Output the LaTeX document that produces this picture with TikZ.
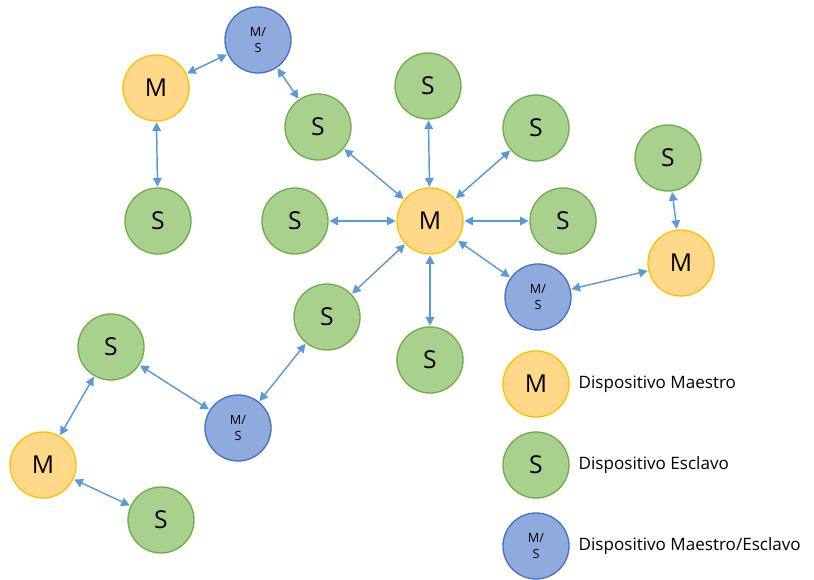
\documentclass[tikz,border=0pt]{standalone}
\usepackage{fontspec}
\setmainfont{Open Sans}
\usetikzlibrary{arrows.meta}

\definecolor{mfill}{HTML}{FFD88A}
\definecolor{mline}{HTML}{FFC000}
\definecolor{sfill}{HTML}{A9D18E}
\definecolor{sline}{HTML}{70AD47}
\definecolor{msfill}{HTML}{8FAADC}
\definecolor{msline}{HTML}{4472C4}
\definecolor{link}{HTML}{5B9BD5}

\tikzset{
  dev/.style={circle, minimum size=49.5pt, inner sep=0pt, line width=1pt},
  master/.style={dev, fill=mfill, draw=mline, font=\fontsize{18.5}{18.5}\selectfont},
  slave/.style={dev, fill=sfill, draw=sline, font=\fontsize{18.5}{18.5}\selectfont},
  both/.style={dev, fill=msfill, draw=msline, align=center, font=\fontsize{9.5}{12}\selectfont},
  link/.style={{Triangle[width=6.5pt,length=6.5pt]}-{Triangle[width=6.5pt,length=6.5pt]}, draw=link, line width=1.1pt, shorten <=0.5pt, shorten >=0.5pt},
  legend/.style={anchor=west, font=\fontsize{12.8}{15}\selectfont}
}

\begin{document}
\begin{tikzpicture}[x=0.75pt, y=-0.75pt]
        \useasboundingbox (0,0) rectangle (814,580);
        % centre star
        \node[master] (mc) at (430,221) {M};
        \node[slave] (sn) at (428,86) {S};
        \node[slave] (sne) at (536,128) {S};
        \node[slave] (se) at (563,221) {S};
        \node[slave] (sw) at (295,221) {S};
        \node[slave] (snw) at (318,127) {S};
        \node[slave] (ssw) at (327,317) {S};
        \node[slave] (ss) at (430,360) {S};
        \node[both] (mse) at (538,297) {M/\\S};
        % upper left group
        \node[both] (msn) at (258,40) {M/\\S};
        \node[master] (mnw) at (156,88) {M};
        \node[slave] (snw2) at (158,221) {S};
        % right group
        \node[master] (me) at (681,263) {M};
        \node[slave] (se2) at (668,158) {S};
        % lower left group
        \node[both] (msw) at (238,428) {M/\\S};
        \node[slave] (sw2) at (111,347) {S};
        \node[master] (msw2) at (43,465) {M};
        \node[slave] (sw3) at (161,520) {S};

        \foreach \n in {sn,sne,se,sw,snw,ssw,ss,mse}
            \draw[link] (mc) -- (\n);
        \draw[link] (mnw) -- (msn);
        \draw[link] (msn) -- (snw);
        \draw[link] (mnw) -- (snw2);
        \draw[link] (mse) -- (me);
        \draw[link] (me) -- (se2);
        \draw[link] (ssw) -- (msw);
        \draw[link] (msw) -- (sw2);
        \draw[link] (sw2) -- (msw2);
        \draw[link] (msw2) -- (sw3);

        % legend
        \node[legend] (tm) at (574,384) {Dispositivo Maestro};
        \node[master] (lm) at (536,384) {M};
        \node[slave] (ls) at (536,465) {S};
        \node[both] (lms) at (536,546) {M/\\S};
        \node[legend] (ts) at (574,465) {Dispositivo Esclavo};
        \node[legend] (tms) at (574,546) {Dispositivo Maestro/Esclavo};
    \end{tikzpicture}
\end{document}
